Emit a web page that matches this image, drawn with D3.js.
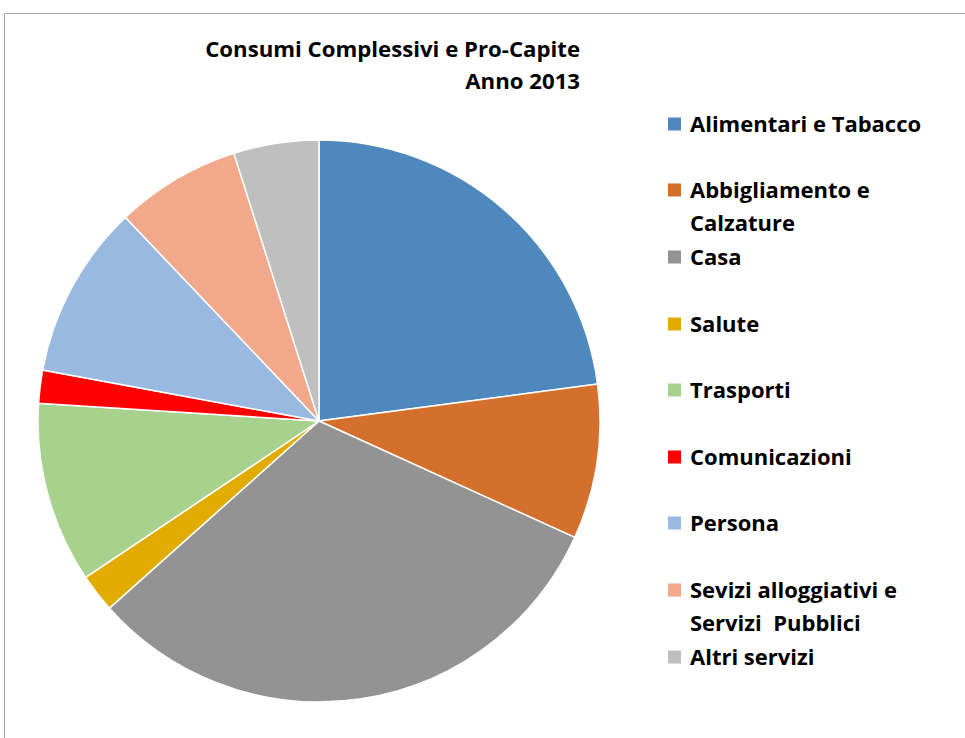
<!DOCTYPE html>
<html>
<head>
<meta charset="utf-8">
<script src="https://cdn.jsdelivr.net/npm/d3@7"></script>
<style>
  body { margin: 0; background: #fff; }
  svg text { font-family: "Open Sans", "Noto Sans", sans-serif; font-weight: bold; fill: #000; }
</style>
</head>
<body>
<svg id="chart" width="965" height="738"></svg>
<script>
// categories and shares (percent)
const categories = [
    "Alimentari e Tabacco",
    "Abbigliamento e|Calzature",
    "Casa",
    "Salute",
    "Trasporti",
    "Comunicazioni",
    "Persona",
    "Sevizi alloggiativi e|Servizi  Pubblici",
    "Altri servizi"
];
const values = [22.9, 8.9, 31.6, 2.2, 10.4, 1.9, 10.0, 7.2, 4.9];
const colors = ["#4F88BD", "#D46F2C", "#939393", "#E2AB00", "#A9D18E", "#FF0000", "#9AB9E0", "#F2A88A", "#BFBFBF"];
const legendY = [124, 190, 257, 324, 390, 457, 523, 590, 657];

const data = categories.map((c, i) => ({ name: c, value: values[i], color: colors[i], ly: legendY[i] }));

const svg = d3.select("#chart");

// chart frame
svg.append("path")
    .attr("d", "M4.5,740 L4.5,13.5 L970,13.5")
    .attr("fill", "none")
    .attr("stroke", "#a6a6a6")
    .attr("stroke-width", 1);

// title
const title = svg.append("text")
    .attr("text-anchor", "end")
    .style("font-size", "22.2px");
title.append("tspan").attr("x", 580).attr("y", 57).text("Consumi Complessivi e Pro-Capite");
title.append("tspan").attr("x", 580).attr("y", 89).text("Anno 2013");

const cx = 319, cy = 421, radius = 281;

const pie = d3.pie()
    .value(d => d.value)
    .sort(null);

const arc = d3.arc()
    .innerRadius(0)
    .outerRadius(radius);

const g = svg.append("g")
    .attr("transform", "translate(" + cx + "," + cy + ")");

g.selectAll("path")
    .data(pie(data))
    .enter()
    .append("path")
    .attr("d", arc)
    .attr("fill", d => d.data.color)
    .attr("stroke", "#fff")
    .style("stroke-width", "1.5px");

// legend
const legend = svg.append("g");
const items = legend.selectAll("g")
    .data(data)
    .enter()
    .append("g");

items.append("rect")
    .attr("x", 668)
    .attr("y", d => d.ly - 6.5)
    .attr("width", 13)
    .attr("height", 13)
    .attr("fill", d => d.color);

items.append("text")
    .style("font-size", "22px")
    .each(function (d) {
        const lines = d.name.split("|");
        lines.forEach((line, j) => {
            d3.select(this).append("tspan")
                .attr("x", 690)
                .attr("y", d.ly + 8 + j * 33)
                .style("white-space", "pre")
                .text(line);
        });
    });
</script>
</body>
</html>
